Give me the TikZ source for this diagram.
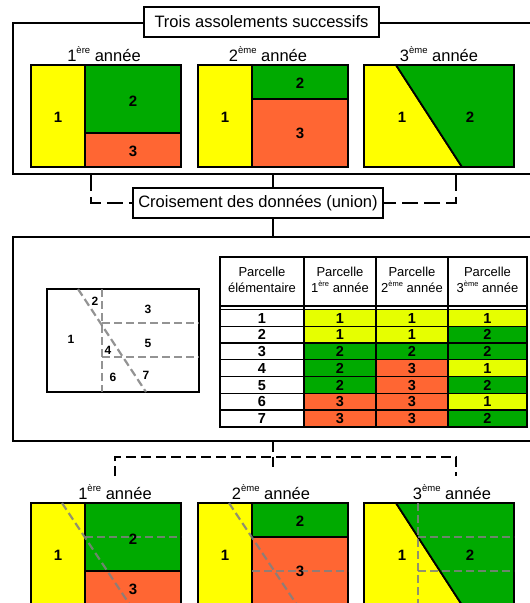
\documentclass[tikz,border=0pt]{standalone}
\usepackage{fontspec}
\setmainfont{Liberation Sans}
\usepackage{tikz}

\definecolor{jaune}{HTML}{FFFF00}
\definecolor{vert}{HTML}{00AA00}
\definecolor{rouille}{HTML}{FF6633}
\definecolor{tjaune}{HTML}{E6FF00}
\colorlet{t1}{tjaune}
\colorlet{t2}{vert}
\colorlet{t3}{rouille}

\def\expotaille{9.5}
\newcommand\expo[1]{\raisebox{.45em}{\fontsize{\expotaille}{\expotaille}\selectfont #1}}

\tikzset{
  cadre/.style={draw, line width=1.8pt, inner sep=0pt},
  titre/.style={draw, fill=white, line width=1.5pt, inner sep=0pt,
    font=\fontsize{16.5}{18}\selectfont},
  an/.style={font=\fontsize{16.5}{18}\selectfont\def\expotaille{9.5}},
  num/.style={font=\fontsize{15}{16}\selectfont\bfseries},
  pnum/.style={font=\fontsize{12}{13}\selectfont\bfseries},
  bord/.style={line width=1.8pt},
  grise/.style={draw=gray, opacity=.85, line width=2.2pt, dash pattern=on 8pt off 4pt},
  lien/.style={line width=1.5pt},
  tirets/.style={line width=1.5pt, dash pattern=on 16pt off 6pt},
  tiretsb/.style={line width=1.5pt, dash pattern=on 10pt off 5pt},
  tab/.style={line width=1.3pt},
  entete/.style={align=center, font=\fontsize{13}{16}\selectfont\def\expotaille{7.5}},
  cellule/.style={font=\fontsize{14.5}{15}\selectfont\bfseries},
}

% les trois parcellaires (origine = coin haut gauche)
\newcommand\premiere[1]{
  \filldraw[bord, fill=jaune] (0,0) rectangle (54,102);
  \filldraw[bord, fill=vert] (54,0) rectangle (150,68);
  \filldraw[bord, fill=rouille] (54,68) rectangle (150,102);
}
\newcommand\deuxieme[1]{
  \filldraw[bord, fill=jaune] (0,0) rectangle (54,102);
  \filldraw[bord, fill=vert] (54,0) rectangle (150,34);
  \filldraw[bord, fill=rouille] (54,34) rectangle (150,102);
}
\newcommand\troisieme[1]{
  \filldraw[bord, fill=jaune] (0,0) -- (32,0) -- (98,102) -- (0,102) -- cycle;
  \filldraw[bord, fill=vert] (32,0) -- (150,0) -- (150,102) -- (98,102) -- cycle;
}

\begin{document}
\begin{tikzpicture}[x=1pt,y=-1pt]
\useasboundingbox (0,0) rectangle (530,603);

% assolements
\node[cadre, minimum width=520pt, minimum height=151pt] (haut) at (273,98.5) {};
\node[titre, minimum width=235pt, minimum height=30pt] (trois) at (261.5,22) {Trois assolements successifs};

\node[an] (an1) at (104,54) {1\expo{ère} année};
\node[an] (an2) at (268,54) {2\expo{ème} année};
\node[an] (an3) at (439,54) {3\expo{ème} année};

\begin{scope}[shift={(31,65)}]
\premiere{p}
\node[num] (p1) at (27,52) {1};
\node[num] (p2) at (102,36) {2};
\node[num] (p3) at (102,86) {3};
\end{scope}
\begin{scope}[shift={(198,65)}]
\deuxieme{d}
\node[num] (d1) at (27,52) {1};
\node[num] (d2) at (102,18) {2};
\node[num] (d3) at (102,68) {3};
\end{scope}
\begin{scope}[shift={(364,65)}]
\troisieme{t}
\node[num] (t1) at (38,52) {1};
\node[num] (t2) at (106,52) {2};
\end{scope}

% croisement
\node[titre, minimum width=250pt, minimum height=30pt] (croix) at (258,203) {Croisement des données (union)};
\coordinate (g) at (91,0);
\coordinate (d) at (456,0);
\draw[tirets] (haut.south -| g) |- (croix.west);
\draw[tirets] (haut.south -| d) |- (croix.east);
\draw[lien] (haut.south) -- (haut.south |- croix.north);

\node[cadre, minimum width=520pt, minimum height=204pt] (milieu) at (273,339) {};
\draw[lien] (croix.south -| milieu.north) -- (milieu.north);

% parcelles elementaires
\begin{scope}[shift={(47,289)}]
\draw[tab] (0,0) rectangle (152,103);
\draw[grise] (55,0) -- (55,103);
\draw[grise] (55,34) -- (152,34);
\draw[grise] (55,68) -- (152,68);
\draw[grise] (31,0) -- (99,103);
\node[pnum] (e1) at (24,50) {1};
\node[pnum] (e2) at (48,12) {2};
\node[pnum] (e3) at (101,20) {3};
\node[pnum] (e4) at (61,61) {4};
\node[pnum] (e5) at (101,54) {5};
\node[pnum] (e6) at (66,88) {6};
\node[pnum] (e7) at (99,86) {7};
\end{scope}

% tableau
\draw[tab] (220,257) rectangle (527,427);
\draw[tab] (220,306) -- (527,306);
\foreach \p/\a/\b/\c [count=\i from 0] in {1/1/1/1,2/1/1/2,3/2/2/2,4/2/3/1,5/2/3/2,6/3/3/1,7/3/3/2}{
  \pgfmathsetmacro\yh{309.5+16.75*\i}
  \pgfmathsetmacro\yb{\yh+16.75}
  \pgfmathsetmacro\ym{\yh+8.6}
  \filldraw[tab, fill=white] (220,\yh) rectangle (304,\yb);
  \filldraw[tab, fill=t\a] (304,\yh) rectangle (376,\yb);
  \filldraw[tab, fill=t\b] (376,\yh) rectangle (448,\yb);
  \filldraw[tab, fill=t\c] (448,\yh) rectangle (527,\yb);
  \node[cellule] (c0\p) at (262,\ym) {\p};
  \node[cellule] (c1\p) at (340,\ym) {\a};
  \node[cellule] (c2\p) at (412,\ym) {\b};
  \node[cellule] (c3\p) at (487.5,\ym) {\c};
}
\draw[tab] (304,257) -- (304,427);
\draw[tab] (376,257) -- (376,427);
\draw[tab] (448,257) -- (448,427);
\node[entete] (h0) at (262,280) {Parcelle\\élémentaire};
\node[entete] (h1) at (340,280) {Parcelle\\1\expo{ère} année};
\node[entete] (h2) at (412,280) {Parcelle\\2\expo{ème} année};
\node[entete] (h3) at (487.5,280) {Parcelle\\3\expo{ème} année};

% retour aux trois annees
\node[an] (bn1) at (115,492) {1\expo{ère} année};
\node[an] (bn2) at (271,492) {2\expo{ème} année};
\node[an] (bn3) at (452,492) {3\expo{ème} année};
\coordinate (b1) at (115,476);
\coordinate (b3) at (456,476);
\draw[tiretsb] (b1) -- ++(0,-19) -| (b3);
\draw[tiretsb] (milieu.south) -- ++(0,29);

\begin{scope}[shift={(31,503)}]
\premiere{q}
\draw[grise] (31,0) -- (99,102);
\draw[grise] (54,34) -- (150,34);
\node[num] (q1) at (27,52) {1};
\node[num] (q2) at (102,36) {2};
\node[num] (q3) at (102,86) {3};
\end{scope}
\begin{scope}[shift={(198,503)}]
\deuxieme{r}
\draw[grise] (31,0) -- (99,102);
\draw[grise] (54,68) -- (150,68);
\node[num] (r1) at (27,52) {1};
\node[num] (r2) at (102,18) {2};
\node[num] (r3) at (102,68) {3};
\end{scope}
\begin{scope}[shift={(364,503)}]
\troisieme{s}
\draw[grise] (54,0) -- (54,102);
\draw[grise] (54,34) -- (150,34);
\draw[grise] (54,68) -- (150,68);
\node[num] (s1) at (38,52) {1};
\node[num] (s2) at (106,52) {2};
\end{scope}

\end{tikzpicture}
\end{document}
